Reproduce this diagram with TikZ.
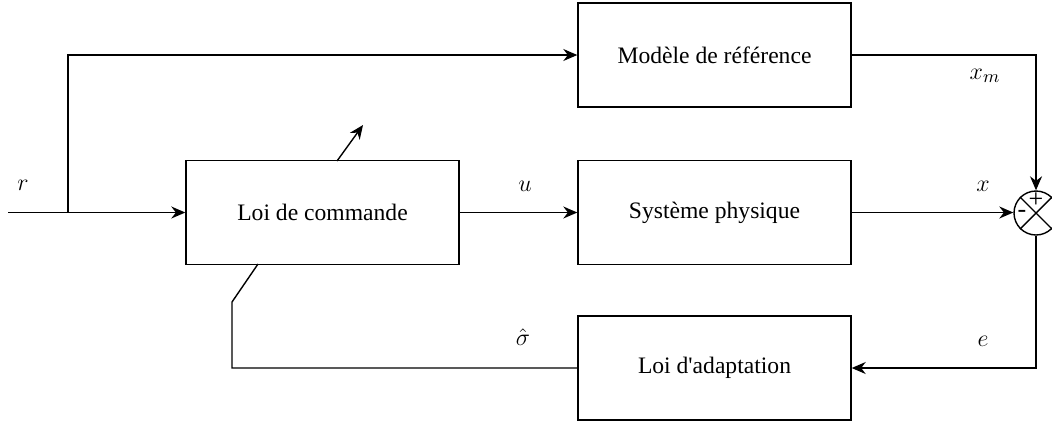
\documentclass[tikz,border=0pt]{standalone}
\usepackage{fontspec}
\setmainfont{Liberation Serif}
\usetikzlibrary{arrows.meta}
\begin{document}
\begin{tikzpicture}[x=0.5pt,y=-0.5pt,
  blockbox/.style={draw,line width=0.7pt,minimum width=136.5pt,minimum height=52pt,inner sep=0pt,font=\fontsize{11.8}{14}\selectfont},
  wire/.style={line width=0.7pt},
  arr/.style={wire,-{Stealth[length=7pt,width=6pt]}},
  lab/.style={font=\fontsize{13}{15}\selectfont}]
\useasboundingbox (0,0) rectangle (1052,420);
\node[blockbox] (mr) at (714.5,55) {Modèle de référence};
\node[blockbox] (lc) at (322.5,212.5) {Loi de commande};
\node[blockbox] (sp) at (714.5,212.5) {Système physique};
\node[blockbox] (ad) at (714.5,368) {Loi d\textquotesingle adaptation};
\node[draw,circle,line width=0.7pt,minimum size=22pt,inner sep=0pt] (s) at (1036,213) {};
\draw[wire] (s.north west) -- (s.south east);
\draw[wire] (s.north east) -- (s.south west);
\node[lab,inner sep=0pt] (plus) at (1036,200) {+};
\node[lab,inner sep=0pt] (minus) at (1022,214) {-};
\coordinate (in) at (8,212.5);
\coordinate (br) at (68,212.5);
\draw[arr] (in) -- (lc.west);
\draw[arr] (br) |- (mr.west);
\draw[arr] (lc.east) -- (sp.west);
\draw[arr] (sp.east) -- (sp.east -| s.west);
\draw[arr] (mr.east) -| (s.north);
\draw[arr] (s.south) |- (ad.east);
\coordinate (f1) at (232,302);
\coordinate (f2) at (258,264);
\draw[wire] (ad.west) -| (f1) -- (f2);
\coordinate (d1) at (337,161);
\coordinate (d2) at (363,125);
\draw[arr] (d1) -- (d2);
\node[lab] (lr) at (23,185) {$r$};
\node[lab] (lu) at (525,186) {$u$};
\node[lab] (lx) at (983,186) {$x$};
\node[lab] (lxm) at (985,76) {$x_m$};
\node[lab] (le) at (983,341) {$e$};
\node[lab] (ls) at (523,337) {$\hat{\sigma}$};
\end{tikzpicture}
\end{document}
